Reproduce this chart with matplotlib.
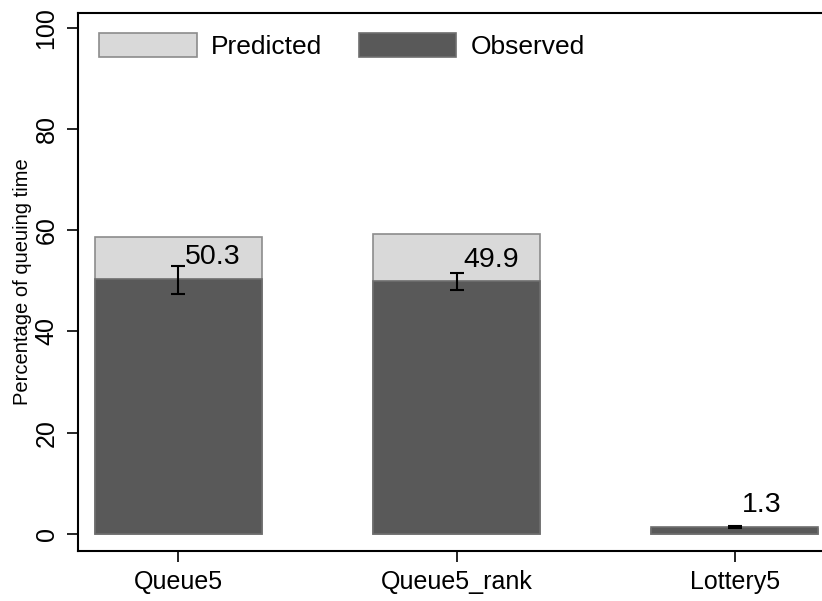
import matplotlib
matplotlib.use("Agg")
import matplotlib.pyplot as plt
import numpy as np

categories = ["Queue5", "Queue5_rank", "Lottery5"]
predicted = [58.6, 59.3, 1.0]
observed = [50.3, 49.9, 1.3]
ci_low = [47.4, 48.1, 1.1]
ci_high = [52.9, 51.6, 1.6]
label_y = [52.2, 51.6, 3.2]

plt.rcParams['font.family'] = ['Liberation Sans', 'DejaVu Sans']

fig = plt.figure(figsize=(8.22, 6.01), dpi=100)
ax_w, ax_h = 757, 551 - 12.5
ax = fig.add_axes([78 / 822, 1 - 551 / 601, ax_w / 822, ax_h / 601])

x = np.arange(len(categories))
w = 0.6
ax.bar(x, predicted, width=w, color="#d9d9d9", edgecolor="#8c8c8c", linewidth=1.2, label="Predicted")
ax.bar(x, observed, width=w, color="#595959", edgecolor="#6e6e6e", linewidth=1.2, label="Observed")

obs = np.array(observed)
yerr = [obs - np.array(ci_low), np.array(ci_high) - obs]
ax.errorbar(x, obs, yerr=yerr, fmt="none", ecolor="black", elinewidth=1.5, capsize=5, capthick=1.5)

for xi, v, ly in zip(x, observed, label_y):
    ax.text(xi + 0.025, ly, f"{v:.1f}", ha="left", va="bottom", fontsize=20.5)

ax.set_xlim(-0.36, 2.36)
ax.set_ylim(-3.4, 103)
ax.set_xticks(x)
ax.set_xticklabels(categories, fontsize=18)
ax.set_yticks([0, 20, 40, 60, 80, 100])
ax.set_yticklabels(["0", "20", "40", "60", "80", "100"], fontsize=18, rotation=90, va="center")
ax.tick_params(axis="both", length=8, width=1.2, direction="out", pad=6)
ax.set_ylabel("Percentage of queuing time", fontsize=14.5, labelpad=2)

for s in ax.spines.values():
    s.set_linewidth(1.5)

ax.legend(loc="upper left", ncol=2, frameon=False, fontsize=19, handlelength=3.7, handleheight=1.0,
          columnspacing=1.4, handletextpad=0.53, borderpad=0, borderaxespad=0,
          bbox_to_anchor=(21 / ax_w, 1 - 21 / ax_h))

fig.savefig("out.png", dpi=100)
